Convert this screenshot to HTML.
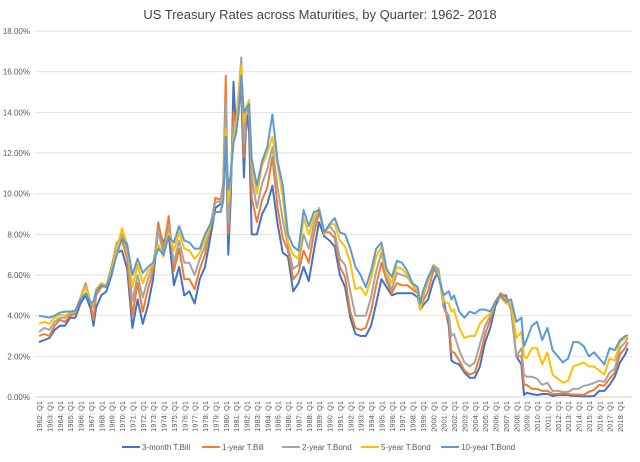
<!DOCTYPE html>
<html><head><meta charset="utf-8"><style>
body{margin:0;background:#fff;width:640px;height:457px;overflow:hidden;font-family:"Liberation Sans",sans-serif}
</style></head><body>
<svg id="chart" width="640" height="457" viewBox="0 0 640 457" xmlns="http://www.w3.org/2000/svg">
<text x="320" y="19" text-anchor="middle" font-size="13" fill="#444">US Treasury Rates across Maturities, by Quarter: 1962- 2018</text>
<g id="grid"></g>
<g id="ylab"></g>
<g id="xlab"></g>
<g id="series"></g>
<g id="legend"></g>
</svg>
<script>
const dates=[1962,1962.5,1963,1963.5,1964,1964.5,1965,1965.5,1966,1966.5,1967,1967.25,1967.5,1968,1968.5,1969,1969.5,1970,1970.5,1971,1971.5,1972,1972.5,1973,1973.5,1974,1974.5,1975,1975.5,1976,1976.5,1977,1977.5,1978,1978.5,1979,1979.5,1979.75,1980,1980.25,1980.5,1980.75,1981,1981.25,1981.5,1981.75,1982,1982.25,1982.5,1983,1983.5,1984,1984.5,1985,1985.5,1986,1986.5,1987,1987.5,1988,1988.5,1989,1989.5,1990,1990.5,1991,1991.5,1992,1992.5,1993,1993.5,1994,1994.5,1995,1995.5,1996,1996.5,1997,1997.5,1998,1998.5,1998.75,1999,1999.5,2000,2000.5,2001,2001.5,2001.75,2002,2002.5,2003,2003.5,2004,2004.5,2005,2005.5,2006,2006.5,2007,2007.5,2008,2008.5,2008.75,2009,2009.5,2010,2010.5,2011,2011.5,2012,2012.5,2013,2013.5,2014,2014.5,2015,2015.5,2016,2016.5,2017,2017.5,2018,2018.5,2018.75];
const m3=[2.7,2.8,2.9,3.3,3.5,3.5,3.9,3.9,4.6,5.0,4.3,3.5,4.4,5.0,5.2,6.0,7.1,7.2,6.3,3.4,4.8,3.6,4.5,5.8,8.3,7.6,8.0,5.5,6.4,5.0,5.2,4.6,5.8,6.4,7.8,9.3,9.5,10.0,13.0,7.0,10.0,15.5,13.0,14.8,15.0,10.8,14.0,13.0,8.0,8.0,9.0,9.5,10.4,8.5,7.1,6.9,5.2,5.6,6.4,5.7,7.2,8.6,7.9,7.7,7.4,6.0,5.4,3.9,3.1,3.0,3.0,3.5,4.6,5.8,5.4,5.0,5.1,5.1,5.1,5.1,4.9,4.3,4.5,4.8,5.7,6.2,4.8,3.5,1.8,1.7,1.6,1.2,0.95,0.95,1.5,2.7,3.4,4.5,5.0,5.0,4.3,2.0,1.6,0.1,0.2,0.15,0.1,0.15,0.15,0.05,0.1,0.1,0.1,0.05,0.05,0.03,0.03,0.05,0.3,0.3,0.6,1.0,1.7,2.1,2.4];
const y1=[3.0,3.1,3.0,3.5,3.8,3.7,4.0,4.1,4.9,5.6,4.5,3.8,5.0,5.4,5.5,6.4,7.6,7.7,6.8,4.0,5.6,4.2,5.3,6.2,8.6,7.3,8.9,6.2,7.3,5.8,5.8,5.3,6.3,7.0,8.3,9.8,9.7,10.5,15.8,8.0,10.8,14.0,13.5,15.0,16.0,11.8,14.2,14.0,9.8,8.6,9.7,10.3,11.8,9.3,7.8,7.2,5.8,6.1,7.2,6.6,8.0,9.1,8.1,8.1,7.8,6.4,5.9,4.2,3.4,3.3,3.4,4.2,5.5,6.6,5.7,5.1,5.6,5.5,5.5,5.3,5.1,4.3,4.7,5.2,6.2,6.3,4.4,3.8,2.2,2.2,1.8,1.3,1.1,1.2,2.0,3.1,3.8,4.7,5.1,4.9,4.5,2.0,2.0,0.6,0.6,0.4,0.4,0.3,0.3,0.15,0.15,0.17,0.15,0.12,0.12,0.1,0.25,0.35,0.6,0.55,0.9,1.2,2.1,2.4,2.7];
const y2=[3.2,3.4,3.3,3.7,3.9,3.9,4.1,4.2,4.9,5.5,4.6,4.4,5.2,5.5,5.5,6.3,7.5,8.0,7.2,4.7,6.0,4.9,5.8,6.5,8.2,7.0,8.4,6.6,7.7,6.6,6.6,6.0,6.8,7.4,8.4,9.6,9.6,10.2,14.5,8.6,11.0,13.3,13.4,15.0,16.7,12.5,14.3,14.5,10.8,9.3,10.5,11.2,12.3,10.3,8.7,7.4,6.3,6.5,8.0,7.3,8.5,9.3,8.1,8.4,8.1,6.8,6.5,5.2,4.0,4.0,4.0,4.9,6.2,7.1,5.9,5.3,6.1,6.0,5.9,5.5,5.2,4.3,4.9,5.7,6.5,6.3,4.4,4.0,3.0,3.1,2.3,1.7,1.5,1.7,2.6,3.5,4.0,4.7,5.0,4.7,4.4,2.0,2.4,1.1,1.0,1.0,0.9,0.6,0.7,0.3,0.3,0.25,0.25,0.4,0.4,0.55,0.6,0.7,0.8,0.75,1.2,1.4,2.4,2.7,2.9];
const y5=[3.6,3.7,3.6,3.9,4.05,4.0,4.15,4.2,4.9,5.4,4.6,4.6,5.3,5.6,5.5,6.2,7.3,8.3,7.5,5.4,6.5,5.6,6.2,6.5,7.5,6.9,8.1,7.2,8.1,7.3,7.2,6.8,7.1,7.7,8.4,9.1,9.1,9.8,13.2,9.6,11.2,12.8,13.3,14.8,16.3,13.5,14.3,14.6,11.5,10.0,11.4,12.0,12.8,11.4,9.8,7.6,7.0,6.8,8.8,8.0,8.8,9.3,8.0,8.5,8.5,7.7,7.4,6.6,5.3,5.4,5.0,5.8,6.9,7.4,6.1,5.6,6.4,6.3,6.0,5.5,5.2,4.3,5.0,5.8,6.5,6.0,4.7,4.6,4.2,4.3,3.4,2.9,3.0,3.0,3.6,3.9,4.1,4.7,4.9,4.6,4.6,2.9,3.2,2.0,1.9,2.4,2.4,1.6,2.2,1.1,0.9,0.7,0.8,1.5,1.6,1.7,1.5,1.5,1.3,1.1,1.9,1.8,2.7,2.9,3.0];
const y10=[4.0,3.95,3.9,4.0,4.15,4.2,4.2,4.25,4.8,5.1,4.6,4.7,5.2,5.5,5.4,6.1,7.0,7.8,7.5,6.0,6.8,6.1,6.4,6.6,7.3,7.0,7.9,7.6,8.4,7.7,7.6,7.3,7.3,8.0,8.5,9.1,9.1,9.6,12.8,10.2,11.0,12.5,13.0,14.0,15.8,14.0,14.2,14.4,11.7,10.4,11.6,12.3,13.9,11.6,10.4,8.0,7.4,7.2,9.2,8.4,9.1,9.2,8.1,8.5,8.8,8.1,8.0,7.3,6.4,6.0,5.4,6.2,7.3,7.6,6.3,5.9,6.7,6.6,6.2,5.6,5.4,4.6,5.2,5.9,6.4,5.9,5.0,5.2,4.8,5.0,4.2,3.9,4.2,4.1,4.3,4.3,4.2,4.7,5.0,4.7,4.8,3.7,3.9,2.5,2.8,3.5,3.7,2.8,3.4,2.3,2.0,1.7,1.9,2.7,2.7,2.5,2.0,2.2,1.9,1.6,2.4,2.3,2.8,3.0,3.05];
const seriesNames=["3-month T.Bill","1-year T.Bill","2-year T.Bond","5-year T.Bond","10-year T.Bond"];
const yTicks=[0,2,4,6,8,10,12,14,16,18];
const xYears=[];for(let y=1962;y<=2018;y++)xYears.push(y);

const NS="http://www.w3.org/2000/svg";
const X0=39,YW=10.375,Y0=397,YU=20.33;
const xs=d=>X0+(d-1962)*YW;
const ys=v=>Y0-v*YU;
function mk(tag,attrs,parent){const e=document.createElementNS(NS,tag);for(const k in attrs)e.setAttribute(k,attrs[k]);parent.appendChild(e);return e;}
const grid=document.getElementById('grid'),ylab=document.getElementById('ylab'),xlab=document.getElementById('xlab'),ser=document.getElementById('series'),leg=document.getElementById('legend');
yTicks.forEach(t=>{
  const l=mk('line',{x1:35,x2:632,y1:ys(t),y2:ys(t),stroke:t===0?'#d0d0d0':'#e2e2e2','stroke-width':1},grid);
  
  
  const tx=mk('text',{x:30,y:ys(t)+3,'text-anchor':'end','font-size':8,fill:'#595959'},ylab);
  tx.textContent=t.toFixed(2)+'%';
  
  
});
xYears.forEach(y=>{
  const x=xs(y)+3;
  const tx=mk('text',{x:0,y:0,transform:`translate(${x},401) rotate(-90)`,'text-anchor':'end','font-size':7.5,fill:'#595959'},xlab);
  tx.textContent=y+': Q1';
  
  
});
const colors=['#4472C4','#ED7D31','#A5A5A5','#FFC000','#5B9BD5'];
[m3,y1,y2,y5,y10].forEach((arr,i)=>{
  const d=arr.map((v,j)=>(j?'L':'M')+xs(dates[j]).toFixed(1)+','+ys(v).toFixed(1)).join('');
  const p=mk('path',{d:d,fill:'none',stroke:colors[i],'stroke-width':2,'stroke-linejoin':'round'},ser);
  
  
});
const lx=[122,202,282,361,441];
seriesNames.forEach((n,i)=>{
  const g=mk('g',{},leg);
  
  
  mk('line',{x1:lx[i],x2:lx[i]+18,y1:447,y2:447,stroke:colors[i],'stroke-width':2},g);
  const t=mk('text',{x:lx[i]+20,y:450,'font-size':8,fill:'#595959'},g);
  t.textContent=n;
});
</script>
</body></html>
